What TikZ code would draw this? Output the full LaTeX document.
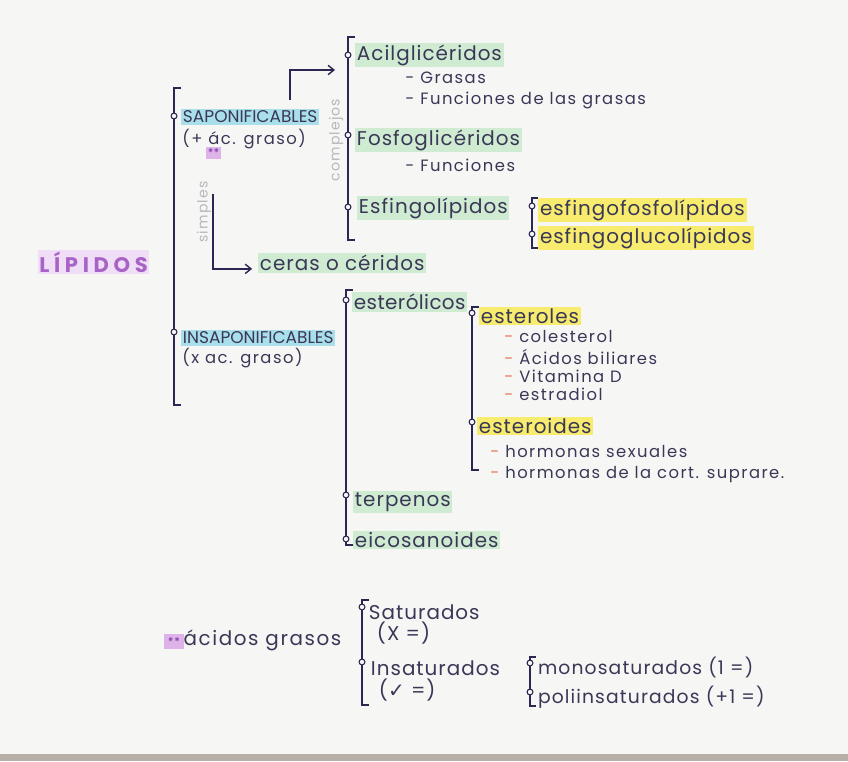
\documentclass[tikz,border=0pt]{standalone}
\usepackage{fontspec}
\setmainfont{Poppins}
\newfontfamily\symfont{DejaVu Sans}
\usetikzlibrary{arrows.meta, positioning}

\definecolor{paper}{HTML}{F6F6F5}
\definecolor{edge}{HTML}{B5AFA7}
\definecolor{ink}{HTML}{2C2652}
\definecolor{txt}{HTML}{3B3756}
\definecolor{hlgreen}{HTML}{CFEBD2}
\definecolor{hlblue}{HTML}{A9DFEB}
\definecolor{hlyellow}{HTML}{F7EC6E}
\definecolor{hlpurple}{HTML}{DDB3EA}
\definecolor{lippurple}{HTML}{A863C6}
\definecolor{starpurple}{HTML}{8E4FB0}
\definecolor{pencil}{HTML}{B9B7BC}
\definecolor{dash}{HTML}{E5775E}

\begin{document}
\begin{tikzpicture}[
		x=0.03cm, y=-0.03cm,
		every node/.style={text=txt},
		lbl/.style={anchor=west, inner sep=1.5pt, font=\fontsize{17}{19}\selectfont\addfontfeatures{LetterSpace=5}},
		sub/.style={anchor=west, inner sep=1pt, font=\fontsize{14}{16}\selectfont\addfontfeatures{LetterSpace=9}},
		green/.style={lbl, fill=hlgreen},
		yellow/.style={lbl, fill=hlyellow},
		blue/.style={anchor=west, inner sep=1.5pt, fill=hlblue, font=\fontsize{14.5}{16}\selectfont},
		dot/.style={circle, draw=ink, fill=paper, line width=0.9pt, inner sep=0pt, minimum size=5pt},
		brk/.style={draw=ink, line width=1.3pt},
		arrow/.style={->, draw=ink, line width=1.2pt, >={Straight Barb[length=5pt,width=8pt]}},
		faint/.style={text=pencil, font=\fontsize{12}{14}\selectfont\addfontfeatures{LetterSpace=8}, rotate=90}
	]
	
	% Paper
	\fill[paper] (0,0) rectangle (848,761);
	\fill[edge] (0,754) rectangle (848,761);
	\useasboundingbox (0,0) rectangle (848,761);
	
	% Title
	\node[anchor=west, fill=hlpurple!45, inner sep=1pt, text=lippurple,
		font=\fontsize{18}{20}\selectfont\bfseries\addfontfeatures{LetterSpace=22}] (lipidos) at (38,262) {LÍPIDOS};
	
	% Main bracket
	\coordinate (mtop) at (174,88);
	\coordinate (mbot) at (174,405);
	\draw[brk] ([xshift=6]mtop) -- (mtop) -- (mbot) -- ([xshift=6]mbot);
	\node[dot] (dsap) at (174,116) {};
	\node[dot] (dinsap) at (174,332) {};
	
	\node[blue] (sap) at (181,117) {SAPONIFICABLES};
	\node[sub] (sapsub) at (181,139) {(+ ác. graso)};
	\node[anchor=west, fill=hlpurple, inner sep=1.5pt, text=starpurple, font=\fontsize{9}{10}\selectfont\bfseries] (sapstar) at (206,153) {**};
	
	% simples / complejos
	\node[faint] (simples) at (204,212) {simples};
	\coordinate (simtop) at (213,194);
	\node[green] (ceras) at (258,263) {ceras o céridos};
	\draw[arrow] (simtop) |- ([xshift=-5,yshift=-5]ceras.west);
	
	\node[faint] (complejos) at (336,140) {complejos};
	\coordinate (comtop) at (290,100);
	\coordinate (comend) at (335,70);
	\draw[arrow] (comtop) |- (comend);
	
	% Complejos bracket
	\coordinate (ctop) at (348,37);
	\coordinate (cbot) at (348,240);
	\draw[brk] ([xshift=6]ctop) -- (ctop) -- (cbot) -- ([xshift=6]cbot);
	\node[dot] (dacil) at (348,55) {};
	\node[dot] (dfosfo) at (348,135) {};
	\node[dot] (desf) at (348,207) {};
	
	\node[green] (acil) at (355,55) {Acilglicéridos};
	\node[sub] (grasas) at (404,78) {- Grasas};
	\node[sub] (funcg) at (404,100) {- Funciones de las grasas};
	\node[green] (fosfo) at (355,140) {Fosfoglicéridos};
	\node[sub] (func) at (404,165) {- Funciones};
	\node[green] (esfingo) at (357,208) {Esfingolípidos};
	
	% Esfingolipidos bracket
	\coordinate (etop) at (532,198);
	\coordinate (ebot) at (532,248);
	\draw[brk] ([xshift=5]etop) -- (etop) -- (ebot) -- ([xshift=5]ebot);
	\node[dot] (defosfo) at (532,206) {};
	\node[dot] (degluco) at (532,234) {};
	\node[yellow] (efosfo) at (538,210) {esfingofosfolípidos};
	\node[yellow] (egluco) at (538,238) {esfingoglucolípidos};
	
	% Insaponificables
	\node[blue] (insap) at (181,338) {INSAPONIFICABLES};
	\node[sub] (insub) at (181,358) {(x ac. graso)};
	
	\coordinate (itop) at (346,290);
	\coordinate (ibot) at (346,545);
	\draw[brk] ([xshift=6]itop) -- (itop) -- (ibot) -- ([xshift=6]ibot);
	\node[dot] (dester) at (346,300) {};
	\node[dot] (dterp) at (346,495) {};
	\node[dot] (deico) at (346,539) {};
	
	\node[green, font=\fontsize{17}{19}\selectfont\addfontfeatures{LetterSpace=2}] (ester) at (352,302) {esterólicos};
	\node[green] (terp) at (353,502) {terpenos};
	\node[green] (eico) at (353,540) {eicosanoides};
	
	% Esterolicos bracket
	\coordinate (stop) at (472,307);
	\coordinate (sbot) at (472,470);
	\draw[brk] ([xshift=6]stop) -- (stop) -- (sbot) -- ([xshift=6]sbot);
	\node[dot] (desterol) at (472,313) {};
	\node[dot] (desteroi) at (472,422) {};
	
	\node[yellow] (esteroles) at (479,316) {esteroles};
	\node[sub] (col) at (503,337) {\textcolor{dash}{-} colesterol};
	\node[sub] (bil) at (503,357) {\textcolor{dash}{-} Ácidos biliares};
	\node[sub] (vit) at (503,376) {\textcolor{dash}{-} Vitamina D};
	\node[sub] (estr) at (503,394) {\textcolor{dash}{-} estradiol};
	\node[yellow] (esteroides) at (477,426) {esteroides};
	\node[sub] (hsex) at (489,452) {\textcolor{dash}{-} hormonas sexuales};
	\node[sub] (hcort) at (489,475) {\textcolor{dash}{-} hormonas de la cort. suprare.};
	
	% Acidos grasos
	\node[anchor=west, inner sep=1pt, font=\fontsize{17}{19}\selectfont\addfontfeatures{LetterSpace=8}] (acidos) at (163,640)
		{\colorbox{hlpurple}{\color{starpurple}\fontsize{9}{10}\selectfont\bfseries **}ácidos grasos};
	
	\coordinate (gtop) at (362,600);
	\coordinate (gbot) at (362,705);
	\draw[brk] ([xshift=6]gtop) -- (gtop) -- (gbot) -- ([xshift=6]gbot);
	\node[dot] (dsat) at (362,607) {};
	\node[dot] (dinsat) at (362,662) {};
	
	\node[lbl] (sat) at (367,612) {Saturados};
	\node[lbl] (satsub) at (375,633) {(X =)};
	\node[lbl] (insat) at (369,668) {Insaturados};
	\node[lbl] (insatsub) at (377,690) {({\symfont ✓} =)};
	
	\coordinate (mtop2) at (530,657);
	\coordinate (mbot2) at (530,706);
	\draw[brk] ([xshift=5]mtop2) -- (mtop2) -- (mbot2) -- ([xshift=5]mbot2);
	\node[dot] (dmono) at (530,663) {};
	\node[dot] (dpoli) at (530,692) {};
	\node[lbl, font=\fontsize{16}{18}\selectfont\addfontfeatures{LetterSpace=6}] (mono) at (536,667) {monosaturados (1 =)};
	\node[lbl, font=\fontsize{16}{18}\selectfont\addfontfeatures{LetterSpace=6}] (poli) at (536,697) {poliinsaturados (+1 =)};
	
\end{tikzpicture}
\end{document}
